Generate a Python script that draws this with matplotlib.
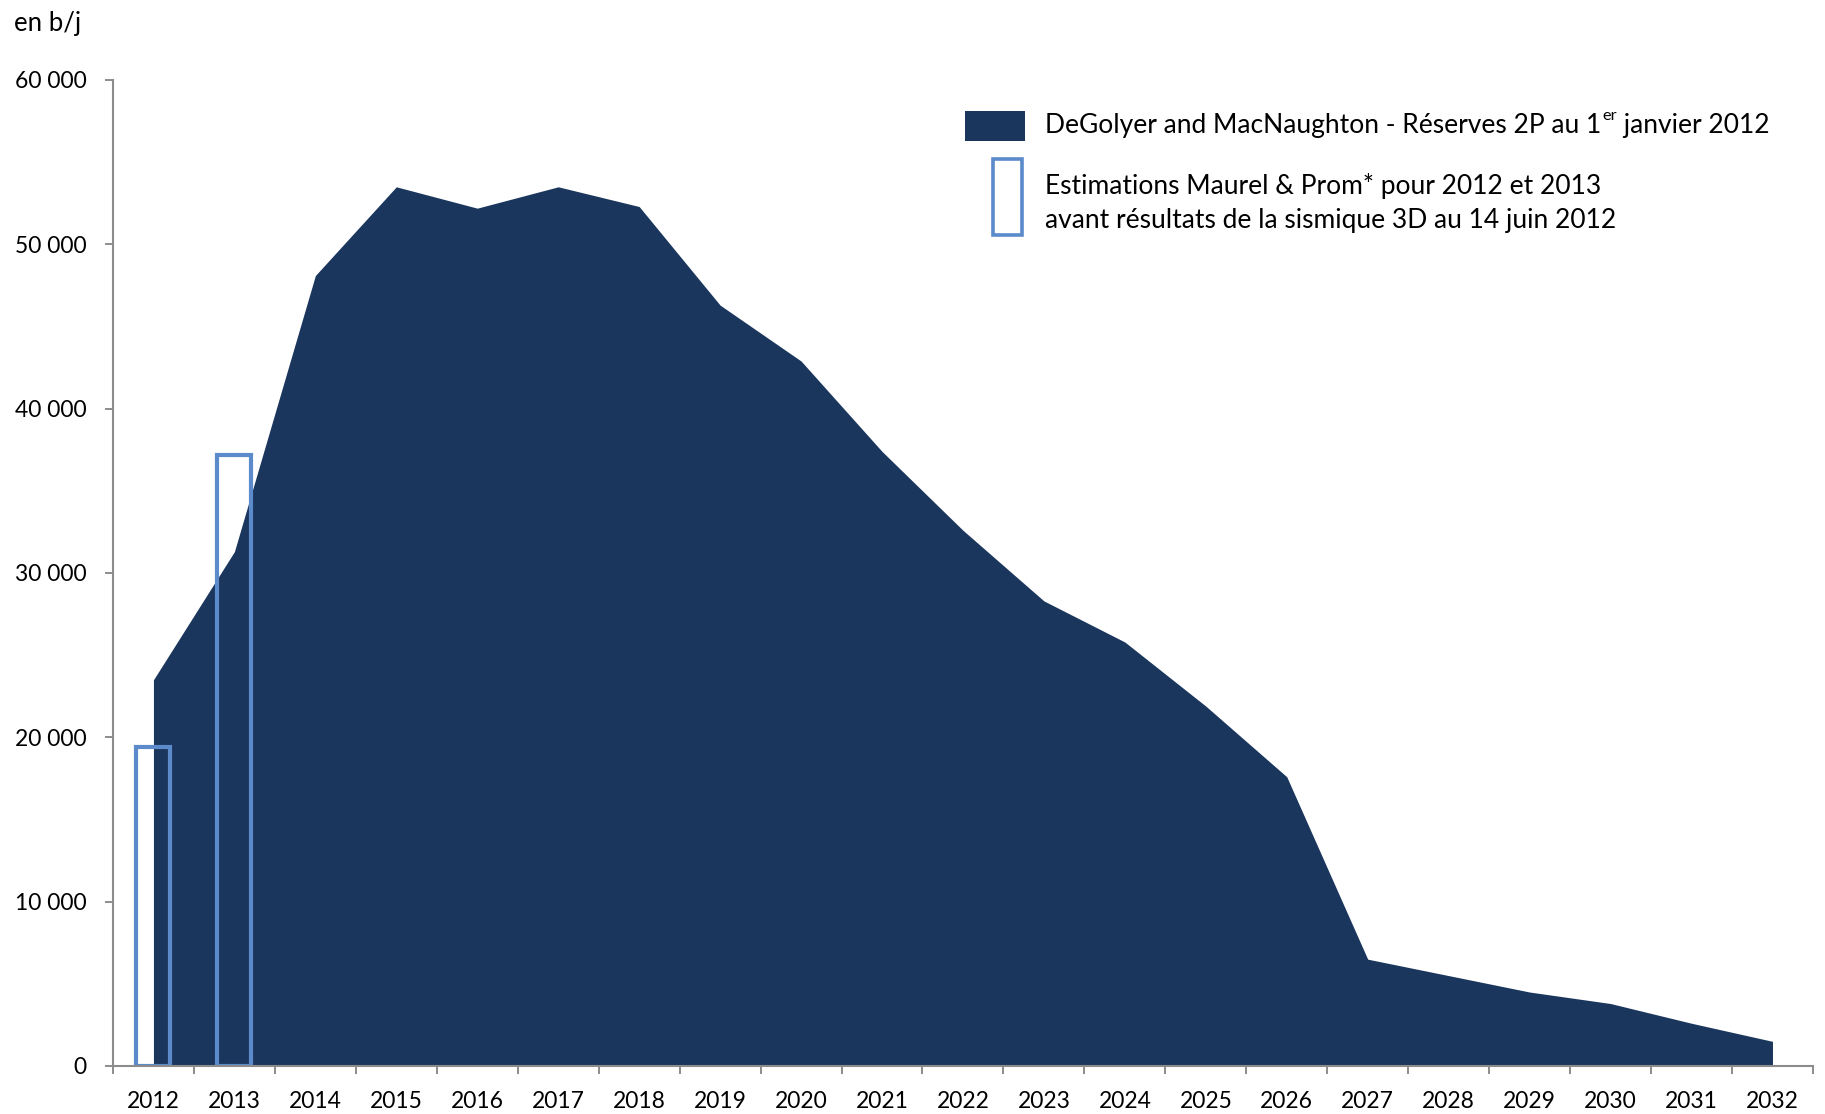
import matplotlib
matplotlib.use("Agg")
import matplotlib.pyplot as plt
from matplotlib.patches import Rectangle
from matplotlib.ticker import FuncFormatter, FixedLocator
import numpy as np

plt.rcParams['font.family'] = ['Lato', 'DejaVu Sans']

years = [str(y) for y in range(2012, 2033)]
production_2p = [23500, 31300, 48100, 53500, 52200, 53500, 52300, 46300, 42900,
                 37400, 32600, 28300, 25800, 21900, 17600, 6500, 5500, 4500,
                 3800, 2600, 1500]
estimate_years = ["2012", "2013"]
estimate_values = [19400, 37200]

navy = "#1B365D"
blue = "#5B8BCB"
grey = "#8C8C8C"
fs = 16.5
fs_leg = 19

fig = plt.figure(figsize=(18.25, 11.14), dpi=100)
ax = fig.add_axes([0.0619, 0.0431, 0.9315, 0.8851])

x = np.arange(len(years))
ax.fill_between(x, production_2p, 0, color=navy, linewidth=0, zorder=2)

est_x = [years.index(y) for y in estimate_years]
ax.bar(est_x, estimate_values, width=0.42, fill=False, edgecolor=blue,
       linewidth=3.0, zorder=3)

ax.set_xlim(-0.5, len(years) - 0.5)
ax.set_ylim(0, 60000)

# category boundaries carry the tick marks, centres carry the labels
ax.xaxis.set_major_locator(FixedLocator(np.arange(-0.5, len(years), 1.0)))
ax.xaxis.set_major_formatter(FuncFormatter(lambda v, p: ""))
ax.xaxis.set_minor_locator(FixedLocator(x))
ax.set_xticklabels(years, minor=True)
ax.tick_params(axis='x', which='major', direction='out', length=6, width=1.4,
               color=grey)
ax.tick_params(axis='x', which='minor', length=0, pad=18, labelsize=fs)

ax.set_yticks(np.arange(0, 60001, 10000))
ax.yaxis.set_major_formatter(FuncFormatter(
    lambda v, p: f"{int(v):,}".replace(",", " ")))
ax.tick_params(axis='y', direction='out', length=6, width=1.4, color=grey,
               pad=13, labelsize=fs)

for side in ('top', 'right'):
    ax.spines[side].set_visible(False)
for side in ('left', 'bottom'):
    ax.spines[side].set_color(grey)
    ax.spines[side].set_linewidth(1.5)
ax.spines['bottom'].set_zorder(4)

fig.text(14 / 1825, 1 - 24 / 1114, "en b/j", fontsize=18.5, va='center', ha='left')

# legend
W, H = 1825, 1114
fig.patches.append(Rectangle((965 / W, 1 - 141 / H), 60 / W, 30 / H,
                             transform=fig.transFigure, facecolor=navy,
                             edgecolor='none'))
fig.patches.append(Rectangle((993 / W, 1 - 235 / H), 29 / W, 76 / H,
                             transform=fig.transFigure, facecolor='white',
                             edgecolor=blue, linewidth=2.6))

renderer = fig.canvas.get_renderer()
y1 = 1 - 125 / H
t1 = fig.text(1045 / W, y1, "DeGolyer and MacNaughton - Réserves 2P au 1",
              fontsize=fs_leg, va='center', ha='left')
bb = t1.get_window_extent(renderer)
t2 = fig.text(bb.x1 / W + 1 / W, y1 + 9 / H, "er", fontsize=fs_leg * 0.62,
              va='center', ha='left')
bb2 = t2.get_window_extent(renderer)
fig.text(bb2.x1 / W, y1, " janvier 2012", fontsize=fs_leg, va='center', ha='left')

fig.text(1045 / W, 1 - 186 / H, "Estimations Maurel & Prom* pour 2012 et 2013",
         fontsize=fs_leg, va='center', ha='left')
fig.text(1045 / W, 1 - 220 / H, "avant résultats de la sismique 3D au 14 juin 2012",
         fontsize=fs_leg, va='center', ha='left')

fig.savefig("out.png", dpi=100, facecolor='white')
